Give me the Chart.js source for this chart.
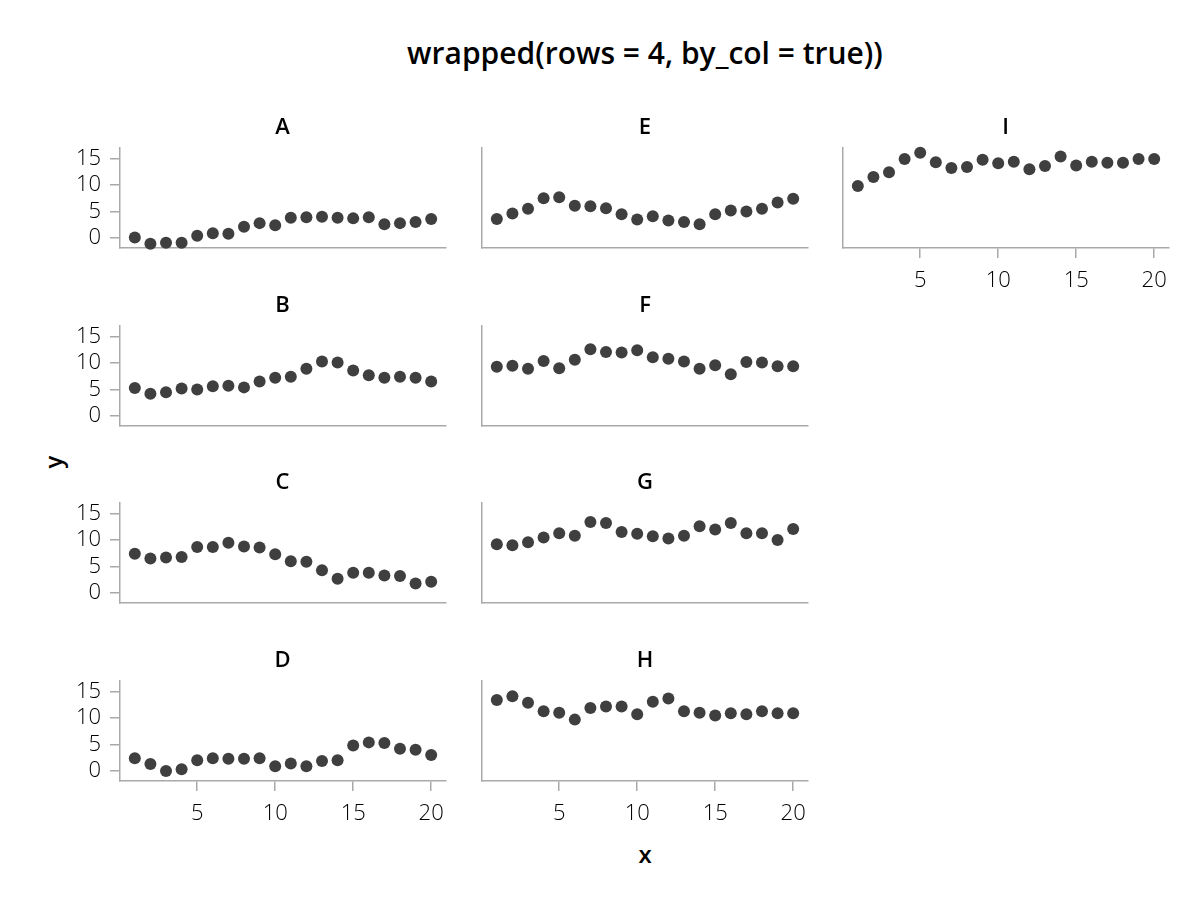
<!DOCTYPE html>
<html>
<head>
<meta charset="utf-8">
<script src="https://cdn.jsdelivr.net/npm/chart.js@4.4.1/dist/chart.umd.min.js"></script>
<style>
	body { margin: 0; background: #fff; }
	#fig { position: relative; width: 1200px; height: 900px; overflow: hidden; font-family: "Open Sans", "Noto Sans", sans-serif; }
	.lbl { position: absolute; transform: translate(-50%, -50%); white-space: nowrap; color: #000; font-weight: 600; }
	canvas { position: absolute; }
</style>
</head>
<body>
<div id="fig"></div>
<script>
'use strict';

const xValues = [1, 2, 3, 4, 5, 6, 7, 8, 9, 10, 11, 12, 13, 14, 15, 16, 17, 18, 19, 20];
const panelNames = ['A', 'B', 'C', 'D', 'E', 'F', 'G', 'H', 'I'];

const seriesA = [0.1, -1.1, -0.9, -0.9, 0.4, 0.9, 0.8, 2.1, 2.8, 2.4, 3.8, 3.9, 4.0, 3.8, 3.7, 3.9, 2.6, 2.8, 3.0, 3.6];
const seriesB = [5.3, 4.2, 4.5, 5.2, 5.0, 5.6, 5.7, 5.4, 6.5, 7.2, 7.4, 8.9, 10.3, 10.1, 8.6, 7.7, 7.2, 7.4, 7.2, 6.5];
const seriesC = [7.4, 6.5, 6.7, 6.8, 8.7, 8.7, 9.5, 8.8, 8.6, 7.3, 6.0, 5.9, 4.3, 2.7, 3.8, 3.8, 3.3, 3.2, 1.8, 2.1];
const seriesD = [2.4, 1.3, 0.0, 0.3, 2.0, 2.4, 2.3, 2.3, 2.4, 0.9, 1.4, 0.9, 1.9, 2.0, 4.8, 5.4, 5.3, 4.2, 4.0, 3.0];
const seriesE = [3.6, 4.6, 5.5, 7.5, 7.7, 6.1, 6.0, 5.6, 4.5, 3.5, 4.1, 3.3, 3.0, 2.6, 4.5, 5.2, 5.0, 5.5, 6.7, 7.4];
const seriesF = [9.3, 9.5, 8.9, 10.4, 9.0, 10.6, 12.6, 12.1, 12.0, 12.4, 11.1, 10.8, 10.3, 8.9, 9.6, 7.9, 10.2, 10.1, 9.4, 9.4];
const seriesG = [9.2, 9.0, 9.6, 10.5, 11.3, 10.8, 13.4, 13.2, 11.5, 11.2, 10.7, 10.3, 10.8, 12.6, 12.0, 13.2, 11.3, 11.3, 10.0, 12.1];
const seriesH = [13.4, 14.1, 12.9, 11.3, 11.0, 9.7, 11.9, 12.2, 12.2, 10.7, 13.1, 13.7, 11.3, 11.0, 10.5, 10.9, 10.7, 11.3, 10.9, 10.9];
const seriesI = [9.8, 11.5, 12.4, 14.9, 16.1, 14.3, 13.2, 13.4, 14.8, 14.1, 14.4, 13.0, 13.6, 15.4, 13.7, 14.4, 14.2, 14.2, 14.9, 14.9];

const xTicks = [5, 10, 15, 20];
const yTicks = [0, 5, 10, 15];

const allSeries = [seriesA, seriesB, seriesC, seriesD, seriesE, seriesF, seriesG, seriesH, seriesI];

// layout of the facet grid (4 rows, filled column by column)
const nRows = 4;
const colLeft = [119.5, 482, 842.5];
const rowTop = [148, 325.5, 503, 680.5];
const panelW = 326;
const panelH = 100;
const padL = 70, padT = 30, padR = 30, padB = 55;

const axisGray = '#a9a9a9';
const pointColor = '#3f3f3f';
const tickFont = { family: '"Open Sans", "Noto Sans", sans-serif', size: 22, weight: '300' };

const fig = document.getElementById('fig');

const addLabel = (text, x, y, size, rotate) => {
	const el = document.createElement('div');
	el.className = 'lbl';
	el.textContent = text;
	el.style.left = x + 'px';
	el.style.top = y + 'px';
	el.style.fontSize = size + 'px';
	if (rotate) el.style.transform = 'translate(-50%, -50%) rotate(-90deg)';
	fig.appendChild(el);
};

const makePanel = (idx) => {
	const col = Math.floor(idx / nRows);
	const row = idx % nRows;
	const showY = col === 0;
	const showX = row === nRows - 1 || idx === allSeries.length - 1;
	const left = colLeft[col];
	const top = rowTop[row];

	const canvas = document.createElement('canvas');
	canvas.width = panelW + padL + padR;
	canvas.height = panelH + padT + padB;
	canvas.style.left = (left - padL) + 'px';
	canvas.style.top = (top - padT) + 'px';
	fig.appendChild(canvas);

	addLabel(panelNames[idx], left + panelW / 2, top - 23, 22);

	const values = allSeries[idx];

	new Chart(canvas, {
		type: 'scatter',
		data: {
			datasets: [
				{
					data: xValues.map((x, i) => ({ x: x, y: values[i] })),
					backgroundColor: pointColor,
					borderWidth: 0,
					pointRadius: 6,
					pointHoverRadius: 6,
					clip: false,
				},
			],
		},
		options: {
			responsive: false,
			animation: false,
			devicePixelRatio: 1,
			layout: { padding: { top: padT, right: padR, left: 0, bottom: 0 } },
			plugins: {
				legend: { display: false },
				tooltip: { enabled: false },
			},
			scales: {
				x: {
					type: 'linear',
					min: 0.05,
					max: 20.95,
					afterBuildTicks: (s) => { s.ticks = xTicks.map((v) => ({ value: v })); },
					afterFit: (s) => { s.height = padB; },
					grid: { display: showX, drawOnChartArea: false, drawTicks: showX, tickLength: 10, color: axisGray, lineWidth: 1.5 },
					border: { display: true, color: axisGray, width: 1.5 },
					ticks: { display: showX, padding: 10, color: '#000', font: tickFont, maxRotation: 0 },
				},
				y: {
					type: 'linear',
					min: -1.9,
					max: 17,
					afterBuildTicks: (s) => { s.ticks = yTicks.map((v) => ({ value: v })); },
					afterFit: (s) => { s.width = padL; },
					grid: { display: showY, drawOnChartArea: false, drawTicks: showY, tickLength: 10, color: axisGray, lineWidth: 1.5 },
					border: { display: true, color: axisGray, width: 1.5 },
					ticks: { display: showY, padding: 9, color: '#000', font: tickFont },
				},
			},
		},
	});
};

addLabel('wrapped(rows = 4, by_col = true))', 645, 52, 30);
addLabel('y', 52, 462, 24, true);
addLabel('x', 645, 853, 24);

allSeries.forEach((_, i) => makePanel(i));
</script>
</body>
</html>
